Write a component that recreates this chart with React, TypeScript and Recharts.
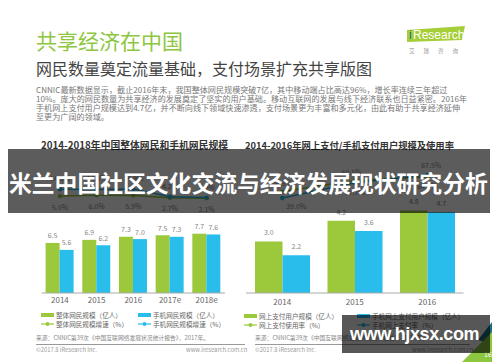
import React from 'react';
import { ComposedChart, Bar, Line, XAxis, YAxis, LabelList } from 'recharts';

const years = ['2014', '2015', '2016', '2017e', '2018e'];
const totalUsers = [6.5, 6.9, 7.3, 7.5, 7.7];
const mobileUsers = [5.6, 6.2, 7.0, 7.3, 7.6];
const totalGrowth = [5.0, 6.0, 5.9, 2.7, 2.1];
const mobileGrowth = [14.5, 14.3, 14.9, 4.2, 2.9];

const payYears = ['2014', '2015', '2016'];
const onlinePayUsers = [3.0, 4.2, 4.8];
const mobilePayUsers = [2.2, 3.6, 4.7];
const onlinePayRate = [46.9, 60.5, 64.9];
const mobilePayRate = [39.0, 57.7, 67.5];

const paragraph = [
  'CNNIC最新数据显示，截止2016年末，我国整体网民规模突破7亿，其中移动端占比高达96%，增长率连续三年超过',
  '10%。庞大的网民数量为共享经济的发展奠定了坚实的用户基础。移动互联网的发展与线下经济联系也日益紧密。2016年',
  '手机网上支付用户规模达到4.7亿，并不断向线下领域快速渗透，支付场景更为丰富和多元化，由此有助于共享经济延伸',
  '至更为广阔的领域。',
];

const GREEN = '#9cc83c';
const BLUE = '#28bdea';
const FONT = '"Noto Sans CJK SC", "Noto Sans", sans-serif';

const leftData = years.map((y, i) => ({
  year: y,
  total: totalUsers[i],
  mobile: mobileUsers[i],
  tg: totalGrowth[i],
  mg: mobileGrowth[i],
}));

const rightData = payYears.map((y, i) => ({
  year: y,
  online: onlinePayUsers[i],
  mobile: mobilePayUsers[i],
  or: onlinePayRate[i],
  mr: mobilePayRate[i],
}));

const pct = (v: any) => `${Number(v).toFixed(1)}%`;
const one = (v: any) => Number(v).toFixed(1);

const makeRateLabel = (dys: number[], dxs: number[], color: string) => (props: any) => {
  const { x, y, value, index } = props;
  return (
    <text x={x + (dxs[index] || 0)} y={y + dys[index]} textAnchor="middle" fontSize={7} fill={color} fontFamily={FONT}>
      {pct(value)}
    </text>
  );
};

const abs = (l: number, t: number, extra: React.CSSProperties = {}): React.CSSProperties => ({
  position: 'absolute',
  left: l,
  top: t,
  whiteSpace: 'nowrap',
  fontFamily: FONT,
  ...extra,
});

const LegendBox = ({ x, y, color, text }: { x: number; y: number; color: string; text: string }) => (
  <div style={abs(x, y - 5, { display: 'flex', alignItems: 'center', fontSize: 6.6, color: '#666', height: 10 })}>
    <span style={{ display: 'inline-block', width: 13, height: 4, background: color, marginRight: 2 }} />
    {text}
  </div>
);

const LegendLine = ({ x, y, color, text }: { x: number; y: number; color: string; text: string }) => (
  <div style={abs(x, y - 5, { display: 'flex', alignItems: 'center', fontSize: 6.6, color: '#666', height: 10 })}>
    <svg width={14} height={6} style={{ marginRight: 1 }}>
      <line x1={0} y1={3} x2={13} y2={3} stroke={color} strokeWidth={1.2} />
      <circle cx={6.5} cy={3} r={2} fill={color} />
    </svg>
    {text}
  </div>
);

export default function App() {
  return (
    <div style={{ position: 'absolute', left: 0, top: 0, width: 500, height: 362, background: '#fff', overflow: 'hidden', fontFamily: FONT }}>
      {/* Header */}
      <div style={abs(36, 27, { fontSize: 21, color: '#8dc63f', lineHeight: '26px' })}>共享经济在中国</div>
      <div style={abs(36, 57, { fontSize: 16, color: '#444', lineHeight: '22px' })}>网民数量奠定流量基础，支付场景扩充共享版图</div>
      {paragraph.map((line, i) => (
        <div key={i} style={abs(36, 85 + i * 9, { fontSize: 8.1, color: '#777', lineHeight: '9px' })}>
          {line}
        </div>
      ))}
      {/* Logo */}
      <svg style={{ position: 'absolute', left: 400, top: 20 }} width={72} height={38}>
        <polygon points="7,10 65,6 62,20 7,22" fill="#a6ce39" />
        <text x={9} y={19} fontSize={12} fill="#1d6e86" fontFamily="Liberation Sans, sans-serif">i</text>
        <text x={13} y={19} fontSize={12} fill="#fff" fontFamily="Liberation Sans, sans-serif">Research</text>
        <text x={9} y={33} fontSize={5.5} fill="#999" fontFamily={FONT} letterSpacing={9}>艾瑞咨询</text>
      </svg>

      {/* Chart titles */}
      <div style={abs(41, 140, { fontSize: 9.8, fontWeight: 700, color: '#333', lineHeight: '11px' })}>2014-2018年中国整体网民和手机网民规模</div>
      <div style={abs(245, 140, { fontSize: 9.3, fontWeight: 700, color: '#333', lineHeight: '11px' })}>2014-2016年网上支付/手机支付用户规模及使用率</div>

      {/* Left chart */}
      <div style={{ position: 'absolute', left: 0, top: 0 }}>
        <ComposedChart width={250} height={362} data={leftData} margin={{ top: 160, right: 25, bottom: 49, left: 41.6 }} barGap={0}>
          <XAxis dataKey="year" height={20} axisLine={{ stroke: '#aaa' }} tickLine={false} tickSize={0} tickMargin={4} tick={{ fontSize: 8, fill: '#666', fontFamily: FONT }} interval={0} />
          <YAxis yAxisId="bar" hide domain={[0, 17.27]} allowDataOverflow />
          <YAxis yAxisId="line" hide domain={[-129.6, 55.1]} allowDataOverflow />
          <Bar yAxisId="bar" dataKey="total" fill={GREEN} barSize={14} isAnimationActive={false}>
            <LabelList dataKey="total" position="top" offset={4.5} fontSize={7} fill="#888" formatter={one} />
          </Bar>
          <Bar yAxisId="bar" dataKey="mobile" fill={BLUE} barSize={14} isAnimationActive={false}>
            <LabelList dataKey="mobile" position="top" offset={4.5} fontSize={7} fill="#888" formatter={one} />
          </Bar>
          <Line yAxisId="line" dataKey="tg" stroke={GREEN} strokeWidth={1.5} dot={{ r: 2.2, fill: GREEN, stroke: GREEN, strokeWidth: 0 }} isAnimationActive={false}>
            <LabelList dataKey="tg" position="bottom" offset={8.5} fontSize={7} fill="#888" formatter={pct} />
          </Line>
          <Line yAxisId="line" dataKey="mg" stroke={BLUE} strokeWidth={1.5} dot={{ r: 2.2, fill: BLUE, stroke: BLUE, strokeWidth: 0 }} isAnimationActive={false}>
            <LabelList dataKey="mg" position="top" offset={8} fontSize={7} fill="#888" formatter={pct} />
          </Line>
        </ComposedChart>
      </div>

      {/* Right chart */}
      <div style={{ position: 'absolute', left: 246, top: 0 }}>
        <ComposedChart width={254} height={362} data={rightData} margin={{ top: 160, right: 36.5, bottom: 49, left: 0 }} barGap={0}>
          <XAxis dataKey="year" height={20} axisLine={{ stroke: '#aaa' }} tickLine={false} tickSize={0} tickMargin={6} tick={{ fontSize: 8, fill: '#666', fontFamily: FONT }} interval={0} />
          <YAxis yAxisId="bar" hide domain={[0, 7.73]} allowDataOverflow />
          <YAxis yAxisId="line" hide domain={[-78.3, 85.9]} allowDataOverflow />
          <Bar yAxisId="bar" dataKey="online" fill={GREEN} barSize={27.5} isAnimationActive={false}>
            <LabelList dataKey="online" position="top" offset={6} fontSize={7} fill="#888" formatter={one} />
          </Bar>
          <Bar yAxisId="bar" dataKey="mobile" fill={BLUE} barSize={27.5} isAnimationActive={false}>
            <LabelList dataKey="mobile" position="top" offset={6} fontSize={7} fill="#888" formatter={one} />
          </Bar>
          <Line yAxisId="line" dataKey="or" stroke={GREEN} strokeWidth={1.5} dot={{ r: 2.2, fill: GREEN, stroke: GREEN, strokeWidth: 0 }} isAnimationActive={false}>
            <LabelList dataKey="or" content={makeRateLabel([-6, -6, 12], [0, -3, 0], '#888')} />
          </Line>
          <Line yAxisId="line" dataKey="mr" stroke={BLUE} strokeWidth={1.5} dot={{ r: 2.2, fill: BLUE, stroke: BLUE, strokeWidth: 0 }} isAnimationActive={false}>
            <LabelList dataKey="mr" content={makeRateLabel([11, 12, -7], [14, 0, 4], '#888')} />
          </Line>
        </ComposedChart>
      </div>

      {/* Legends */}
      <LegendBox x={41} y={315} color={GREEN} text="整体网民规模（亿人）" />
      <LegendBox x={138} y={315} color={BLUE} text="手机网民规模（亿人）" />
      <LegendLine x={41} y={323.5} color={GREEN} text="整体网民规模增速（%）" />
      <LegendLine x={138} y={323.5} color={BLUE} text="手机网民规模增速（%）" />

      <LegendBox x={244} y={316} color={GREEN} text="网上支付用户规模（亿人）" />
      <LegendBox x={357} y={316} color={BLUE} text="手机网上支付用户规模（亿人）" />
      <LegendLine x={244} y={324.5} color={GREEN} text="网上支付使用率（%）" />
      <LegendLine x={357} y={324.5} color={BLUE} text="手机网上支付率（%）" />

      {/* Sources */}
      <div style={abs(36, 334, { fontSize: 5.8, color: '#888', lineHeight: '8px' })}>来源：CNNIC第39次《中国互联网络发展状况统计报告》，2017年。</div>
      <div style={{ position: 'absolute', left: 36, top: 343.5, width: 209, height: 0, borderTop: '0.8px solid #999' }} />
      <div style={abs(36, 345.5, { fontSize: 5.8, color: '#999', lineHeight: '8px' })}>©2017.8 iResearch Inc.</div>
      <div style={abs(186, 345.5, { fontSize: 5.8, color: '#999', lineHeight: '8px' })}>www.iresearch.com.cn</div>

      <div style={abs(255, 334, { fontSize: 5.8, color: '#888', lineHeight: '8px' })}>来源：CNNIC第39次《中国互联网络发展状况统计报告》，2017年。</div>
      <div style={{ position: 'absolute', left: 255, top: 343.5, width: 215, height: 0, borderTop: '0.8px solid #999' }} />
      <div style={abs(255, 345.5, { fontSize: 5.8, color: '#999', lineHeight: '8px' })}>©2017.8 iResearch Inc.</div>
      <div style={abs(412, 345.5, { fontSize: 5.8, color: '#999', lineHeight: '8px' })}>www.iresearch.com.cn</div>

      {/* Corner decoration */}
      <svg style={{ position: 'absolute', left: 440, top: 310 }} width={60} height={52}>
        <polygon points="38,30 52,12 52,34" fill="#1b6f80" />
        <polygon points="22,52 52,52 52,22" fill="#8dc63f" />
        <text x={44} y={47} fontSize={7} fill="#fff" fontFamily={FONT}>16</text>
      </svg>

      {/* Banner overlay */}
      <div style={{ position: 'absolute', left: 8, top: 149, width: 482, height: 64, background: 'rgba(0,0,0,0.64)' }} />
      <div style={abs(9, 167.5, { fontSize: 22.8, fontWeight: 700, color: '#fff', lineHeight: '30px' })}>米兰中国社区文化交流与经济发展现状研究分析</div>

      {/* Watermark */}
      <div style={{ position: 'absolute', left: 342, top: 315, width: 148, height: 38, background: 'rgba(0,0,0,0.66)' }} />
      <div style={abs(350, 323, { fontSize: 18, fontWeight: 700, color: '#fff', lineHeight: '22px', fontFamily: '"Liberation Sans", Arial, sans-serif', letterSpacing: -0.4 })}>www.hjxsx.com</div>
    </div>
  );
}
